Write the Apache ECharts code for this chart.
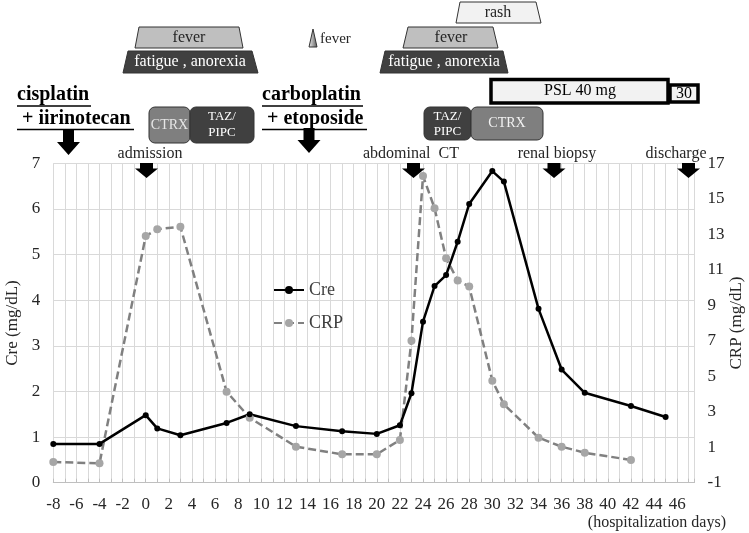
<!DOCTYPE html>
<html>
<head>
<meta charset="utf-8">
<script src="https://cdn.jsdelivr.net/npm/echarts@6/dist/echarts.min.js"></script>
<style>
html, body { margin: 0; padding: 0; background: #fff; }
#chart { width: 749px; height: 533px; }
</style>
</head>
<body>
<div id="chart"></div>
<script>
const creDays = [-8, -4, 0, 1, 3, 7, 9, 13, 17, 20, 22, 23, 24, 25, 26, 27, 28, 30, 31, 34, 36, 38, 42, 45];
const creValues = [0.85, 0.85, 1.48, 1.19, 1.04, 1.31, 1.5, 1.24, 1.13, 1.07, 1.26, 1.96, 3.53, 4.31, 4.55, 5.28, 6.11, 6.83, 6.6, 3.81, 2.48, 1.97, 1.68, 1.44];
const crpDays = [-8, -4, 0, 1, 3, 7, 9, 13, 17, 20, 22, 23, 24, 25, 26, 27, 28, 30, 31, 34, 36, 38, 42];
const crpValues = [0.17, 0.09, 12.9, 13.28, 13.43, 4.13, 2.66, 1.03, 0.6, 0.6, 1.41, 7.0, 16.29, 14.47, 11.65, 10.39, 10.05, 4.75, 3.42, 1.54, 1.03, 0.69, 0.28];

const FONT = '"Liberation Serif", "Times New Roman", serif';
const TEXT = '#262626';

const chart = echarts.init(document.getElementById('chart'));

function pairs(xs, ys) {
  return xs.map((x, i) => [x, ys[i]]);
}

function trapezoid(xt1, xt2, xb1, xb2, yt, yb, fill) {
  return {
    type: 'polygon',
    shape: { points: [[xt1, yt], [xt2, yt], [xb2, yb], [xb1, yb]] },
    style: { fill: fill, stroke: '#333', lineWidth: 1 }
  };
}

function label(x, y, text, size, color, extra) {
  return {
    type: 'text',
    x: x,
    y: y,
    z: 10,
    style: Object.assign({
      text: text,
      fill: color || TEXT,
      font: (size || 16) + 'px ' + FONT,
      align: 'center',
      verticalAlign: 'middle'
    }, extra || {})
  };
}

function box(x, y, w, h, fill) {
  return {
    type: 'rect',
    shape: { x: x, y: y, width: w, height: h, r: 6 },
    style: { fill: fill, stroke: '#333', lineWidth: 1 }
  };
}

// block arrow pointing down
function arrow(cx, top, stemEnd, bottom, stemW, headW) {
  const s = stemW / 2, h = headW / 2;
  return {
    type: 'polygon',
    z: 5,
    shape: {
      points: [[cx - s, top], [cx + s, top], [cx + s, stemEnd], [cx + h, stemEnd],
        [cx, bottom], [cx - h, stemEnd], [cx - s, stemEnd]]
    },
    style: { fill: '#000' }
  };
}

function underline(x1, x2, y) {
  return { type: 'line', shape: { x1: x1, y1: y, x2: x2, y2: y }, style: { stroke: '#000', lineWidth: 1.5 } };
}

const BOLD = { align: 'left', font: 'bold 20px ' + FONT };

const graphics = [
  // symptoms before admission
  trapezoid(139, 239, 135, 243, 27, 48, '#bfbfbf'),
  label(189, 38, 'fever', 16, '#262626'),
  trapezoid(128, 252, 123, 258, 51, 73, '#404040'),
  label(190, 62, 'fatigue , anorexia', 16, '#fff'),
  {
    type: 'polygon',
    shape: { points: [[313, 29], [317, 47], [309, 47]] },
    style: {
      stroke: '#333', lineWidth: 1,
      fill: new echarts.graphic.LinearGradient(0, 0, 1, 0, [
        { offset: 0, color: '#f2f2f2' }, { offset: 1, color: '#595959' }
      ])
    }
  },
  label(320, 39, 'fever', 15, '#262626', { align: 'left' }),
  // symptoms later
  trapezoid(460, 536, 456, 541, 2, 23, '#f2f2f2'),
  label(498, 13, 'rash', 16, '#262626'),
  trapezoid(408, 493, 403, 498, 27, 48, '#bfbfbf'),
  label(451, 38, 'fever', 16, '#262626'),
  trapezoid(385, 503, 380, 508, 51, 73, '#404040'),
  label(444, 62, 'fatigue , anorexia', 16, '#fff'),
  // steroid
  {
    type: 'rect', shape: { x: 670, y: 85, width: 28, height: 17 },
    style: { fill: '#f2f2f2', stroke: '#000', lineWidth: 3.5 }
  },
  {
    type: 'rect', shape: { x: 491, y: 79.5, width: 177, height: 23.5 },
    style: { fill: '#f2f2f2', stroke: '#000', lineWidth: 3.5 }
  },
  label(580, 91, 'PSL 40 mg', 16, '#000'),
  label(684, 93.5, '30', 16, '#000'),
  // antibiotics
  box(149, 107, 41, 36, '#7f7f7f'),
  label(169.5, 125, 'CTRX', 14, '#e6e6e6'),
  box(190, 107, 64, 36, '#404040'),
  label(222, 117, 'TAZ/', 13, '#fff'),
  label(222, 133, 'PIPC', 13, '#fff'),
  box(424, 107, 47, 33, '#404040'),
  label(447.5, 116.5, 'TAZ/', 13, '#fff'),
  label(447.5, 132, 'PIPC', 13, '#fff'),
  box(471, 107, 72, 33, '#7f7f7f'),
  label(507, 123, 'CTRX', 14, '#f2f2f2'),
  // chemotherapy
  label(17, 95, 'cisplatin', 20, '#000', BOLD),
  underline(17, 91, 106),
  label(17, 119, ' + iirinotecan', 20, '#000', BOLD),
  underline(17, 134, 129.5),
  arrow(68.5, 130, 142, 155, 11, 23),
  label(262, 95, 'carboplatin', 20, '#000', BOLD),
  underline(262, 363, 106),
  label(262, 119, ' + etoposide', 20, '#000', BOLD),
  underline(262, 367, 129.5),
  arrow(309, 128, 140, 153, 11, 23),
  // events
  label(150, 154, 'admission', 16, TEXT),
  arrow(146.5, 163, 168.5, 178, 13, 23),
  label(411, 154, 'abdominal  CT', 16, TEXT),
  arrow(413.5, 163, 168.5, 178, 13, 23),
  label(557, 154, 'renal biopsy', 16, TEXT),
  arrow(554, 163, 168.5, 178, 13, 23),
  label(676, 154, 'discharge', 16, TEXT),
  arrow(688.5, 163, 168.5, 178, 13, 23),
  label(726, 523, '(hospitalization days)', 16, TEXT, { align: 'right' })
];

chart.setOption({
  animation: false,
  textStyle: { fontFamily: FONT },
  grid: { left: 53.3, right: 54.5, top: 163.3, bottom: 50.3, outerBoundsMode: 'none', containLabel: false },
  legend: {
    orient: 'vertical',
    left: 268,
    top: 276,
    itemWidth: 30,
    itemHeight: 10,
    itemGap: 15,
    textStyle: { fontFamily: FONT, fontSize: 18, color: '#404040' },
    data: ['Cre', 'CRP']
  },
  xAxis: {
    type: 'value',
    min: -8,
    max: 47.5,
    interval: 1,
    axisLine: { show: true, lineStyle: { color: '#bfbfbf', width: 1 } },
    axisTick: { show: true, inside: true, length: 4, lineStyle: { color: '#bfbfbf' } },
    splitLine: { show: true, lineStyle: { color: '#d9d9d9', width: 1 } },
    axisLabel: {
      margin: 13,
      fontSize: 17,
      fontFamily: FONT,
      color: TEXT,
      formatter: v => (v % 2 === 0 ? String(v) : '')
    }
  },
  yAxis: [
    {
      type: 'value',
      min: 0,
      max: 7,
      interval: 1,
      name: 'Cre (mg/dL)',
      nameLocation: 'middle',
      nameRotate: 90,
      nameGap: 31,
      nameTextStyle: { fontFamily: FONT, fontSize: 17, color: TEXT },
      axisLine: { show: false },
      axisTick: { show: false },
      splitLine: { show: true, lineStyle: { color: '#d9d9d9', width: 1 } },
      axisLabel: { margin: 13, fontSize: 17, fontFamily: FONT, color: TEXT }
    },
    {
      type: 'value',
      min: -1,
      max: 17,
      interval: 2,
      position: 'right',
      name: 'CRP (mg/dL)',
      nameLocation: 'middle',
      nameRotate: 90,
      nameGap: 34,
      nameMoveOverlap: false,
      nameTextStyle: { fontFamily: FONT, fontSize: 17, color: TEXT },
      axisLine: { show: false },
      axisTick: { show: false },
      splitLine: { show: false },
      axisLabel: { margin: 13, fontSize: 17, fontFamily: FONT, color: TEXT }
    }
  ],
  series: [
    {
      name: 'CRP',
      type: 'line',
      yAxisIndex: 1,
      data: pairs(crpDays, crpValues),
      symbol: 'circle',
      symbolSize: 8,
      itemStyle: { color: '#a6a6a6' },
      lineStyle: { color: '#808080', width: 2.5, type: [8, 4] }
    },
    {
      name: 'Cre',
      type: 'line',
      data: pairs(creDays, creValues),
      symbol: 'circle',
      symbolSize: 6,
      itemStyle: { color: '#000' },
      lineStyle: { color: '#000', width: 2.5 }
    }
  ],
  graphic: graphics
});
</script>
</body>
</html>
